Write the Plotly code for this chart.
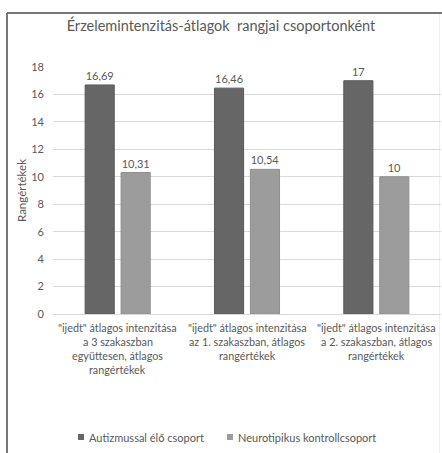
import plotly.graph_objects as go

# Chart data
categories = ["összesen", "1. szakasz", "2. szakasz"]
category_labels = [
    ['"ijedt" átlagos intenzitása', "a 3 szakaszban", "együttesen, átlagos", "rangértékek"],
    ['"ijedt" átlagos intenzitása', "az 1. szakaszban, átlagos", "rangértékek"],
    ['"ijedt" átlagos intenzitása', "a 2. szakaszban, átlagos", "rangértékek"],
]
series_names = ["Autizmussal élő csoport", "Neurotipikus kontrollcsoport"]
autism_values = [16.69, 16.46, 17]
control_values = [10.31, 10.54, 10]
y_ticks = [0, 2, 4, 6, 8, 10, 12, 14, 16, 18]

FONT = "Lato"
TEXT_GRAY = "#595959"
COLORS = ["#666666", "#9c9c9c"]
EDGES = ["#5a5a5a", "#8f8f8f"]

# Plot area in pixels (used to convert to paper coordinates)
W, H = 442, 453
L, R, T, B = 53, 1, 67, 139
PW, PH = W - L - R, H - T - B


def px(x):
    return (x - L) / PW


def py(y):
    return (H - B - y) / PH


def fmt(v):
    # Hungarian decimal comma
    s = f"{v:.2f}".rstrip("0").rstrip(".")
    return s.replace(".", ",")


fig = go.Figure()
for name, vals, color, edge in zip(series_names, [autism_values, control_values], COLORS, EDGES):
    fig.add_trace(go.Bar(
        name=name,
        x=categories,
        y=vals,
        marker=dict(color=color, line=dict(color=edge, width=1)),
        text=[fmt(v) for v in vals],
        textposition="outside",
        textfont=dict(family=FONT, size=11, color=TEXT_GRAY),
        cliponaxis=False,
        showlegend=False,
    ))

annotations = []
# multi-line category labels under each group
for cat, lines in zip(categories, category_labels):
    for i, line in enumerate(lines):
        annotations.append(dict(
            x=cat, xref="x", y=py(327 + i * 14.3), yref="paper",
            text=line, showarrow=False, xanchor="center", yanchor="middle",
            font=dict(family=FONT, size=10.8, color=TEXT_GRAY),
        ))

# legend: small squares followed by series names
legend_x = [78, 227]
shapes = []
for name, color, lx in zip(series_names, COLORS, legend_x):
    shapes.append(dict(
        type="rect", xref="paper", yref="paper",
        x0=px(lx), x1=px(lx + 6), y0=py(440), y1=py(434),
        fillcolor=color, line=dict(width=0),
    ))
    annotations.append(dict(
        x=px(lx + 9), xref="paper", y=py(437), yref="paper",
        text=name, showarrow=False, xanchor="left", yanchor="middle",
        font=dict(family=FONT, size=11, color=TEXT_GRAY),
    ))

# outer chart frame
shapes.append(dict(
    type="line", xref="paper", yref="paper",
    x0=px(7), x1=px(442), y0=py(13), y1=py(13),
    line=dict(color="#777777", width=2), layer="below",
))
shapes.append(dict(
    type="line", xref="paper", yref="paper",
    x0=px(7), x1=px(7), y0=py(13), y1=py(455),
    line=dict(color="#777777", width=2), layer="below",
))
shapes.append(dict(
    type="line", xref="paper", yref="paper",
    x0=px(439.5), x1=px(439.5), y0=py(14), y1=py(455),
    line=dict(color="#eeeeee", width=1), layer="below",
))

fig.update_layout(
    width=W,
    height=H,
    margin=dict(l=L, r=R, t=T, b=B),
    paper_bgcolor="white",
    plot_bgcolor="white",
    font=dict(family=FONT, size=11, color=TEXT_GRAY),
    barmode="group",
    bargap=0.444,
    bargroupgap=0.19,
    title=dict(
        text="Érzelemintenzitás-átlagok  rangjai csoportonként",
        x=0.5, xref="container", xanchor="center",
        y=1 - 26 / H, yanchor="middle",
        font=dict(family=FONT, size=14.5, color=TEXT_GRAY),
    ),
    xaxis=dict(
        showgrid=False,
        showline=False,
        ticks="",
        showticklabels=False,
    ),
    yaxis=dict(
        range=[0, 18],
        tickvals=y_ticks,
        showgrid=True,
        gridcolor="#d9d9d9",
        gridwidth=1,
        zeroline=True,
        zerolinecolor="#d9d9d9",
        zerolinewidth=1,
        showline=False,
        ticks="",
        ticklabelstandoff=8,
        tickfont=dict(family=FONT, size=11, color=TEXT_GRAY),
        title=dict(text="Rangértékek", font=dict(family=FONT, size=11.5, color=TEXT_GRAY), standoff=2),
    ),
    annotations=annotations,
    shapes=shapes,
)

fig.write_html("out.html")
